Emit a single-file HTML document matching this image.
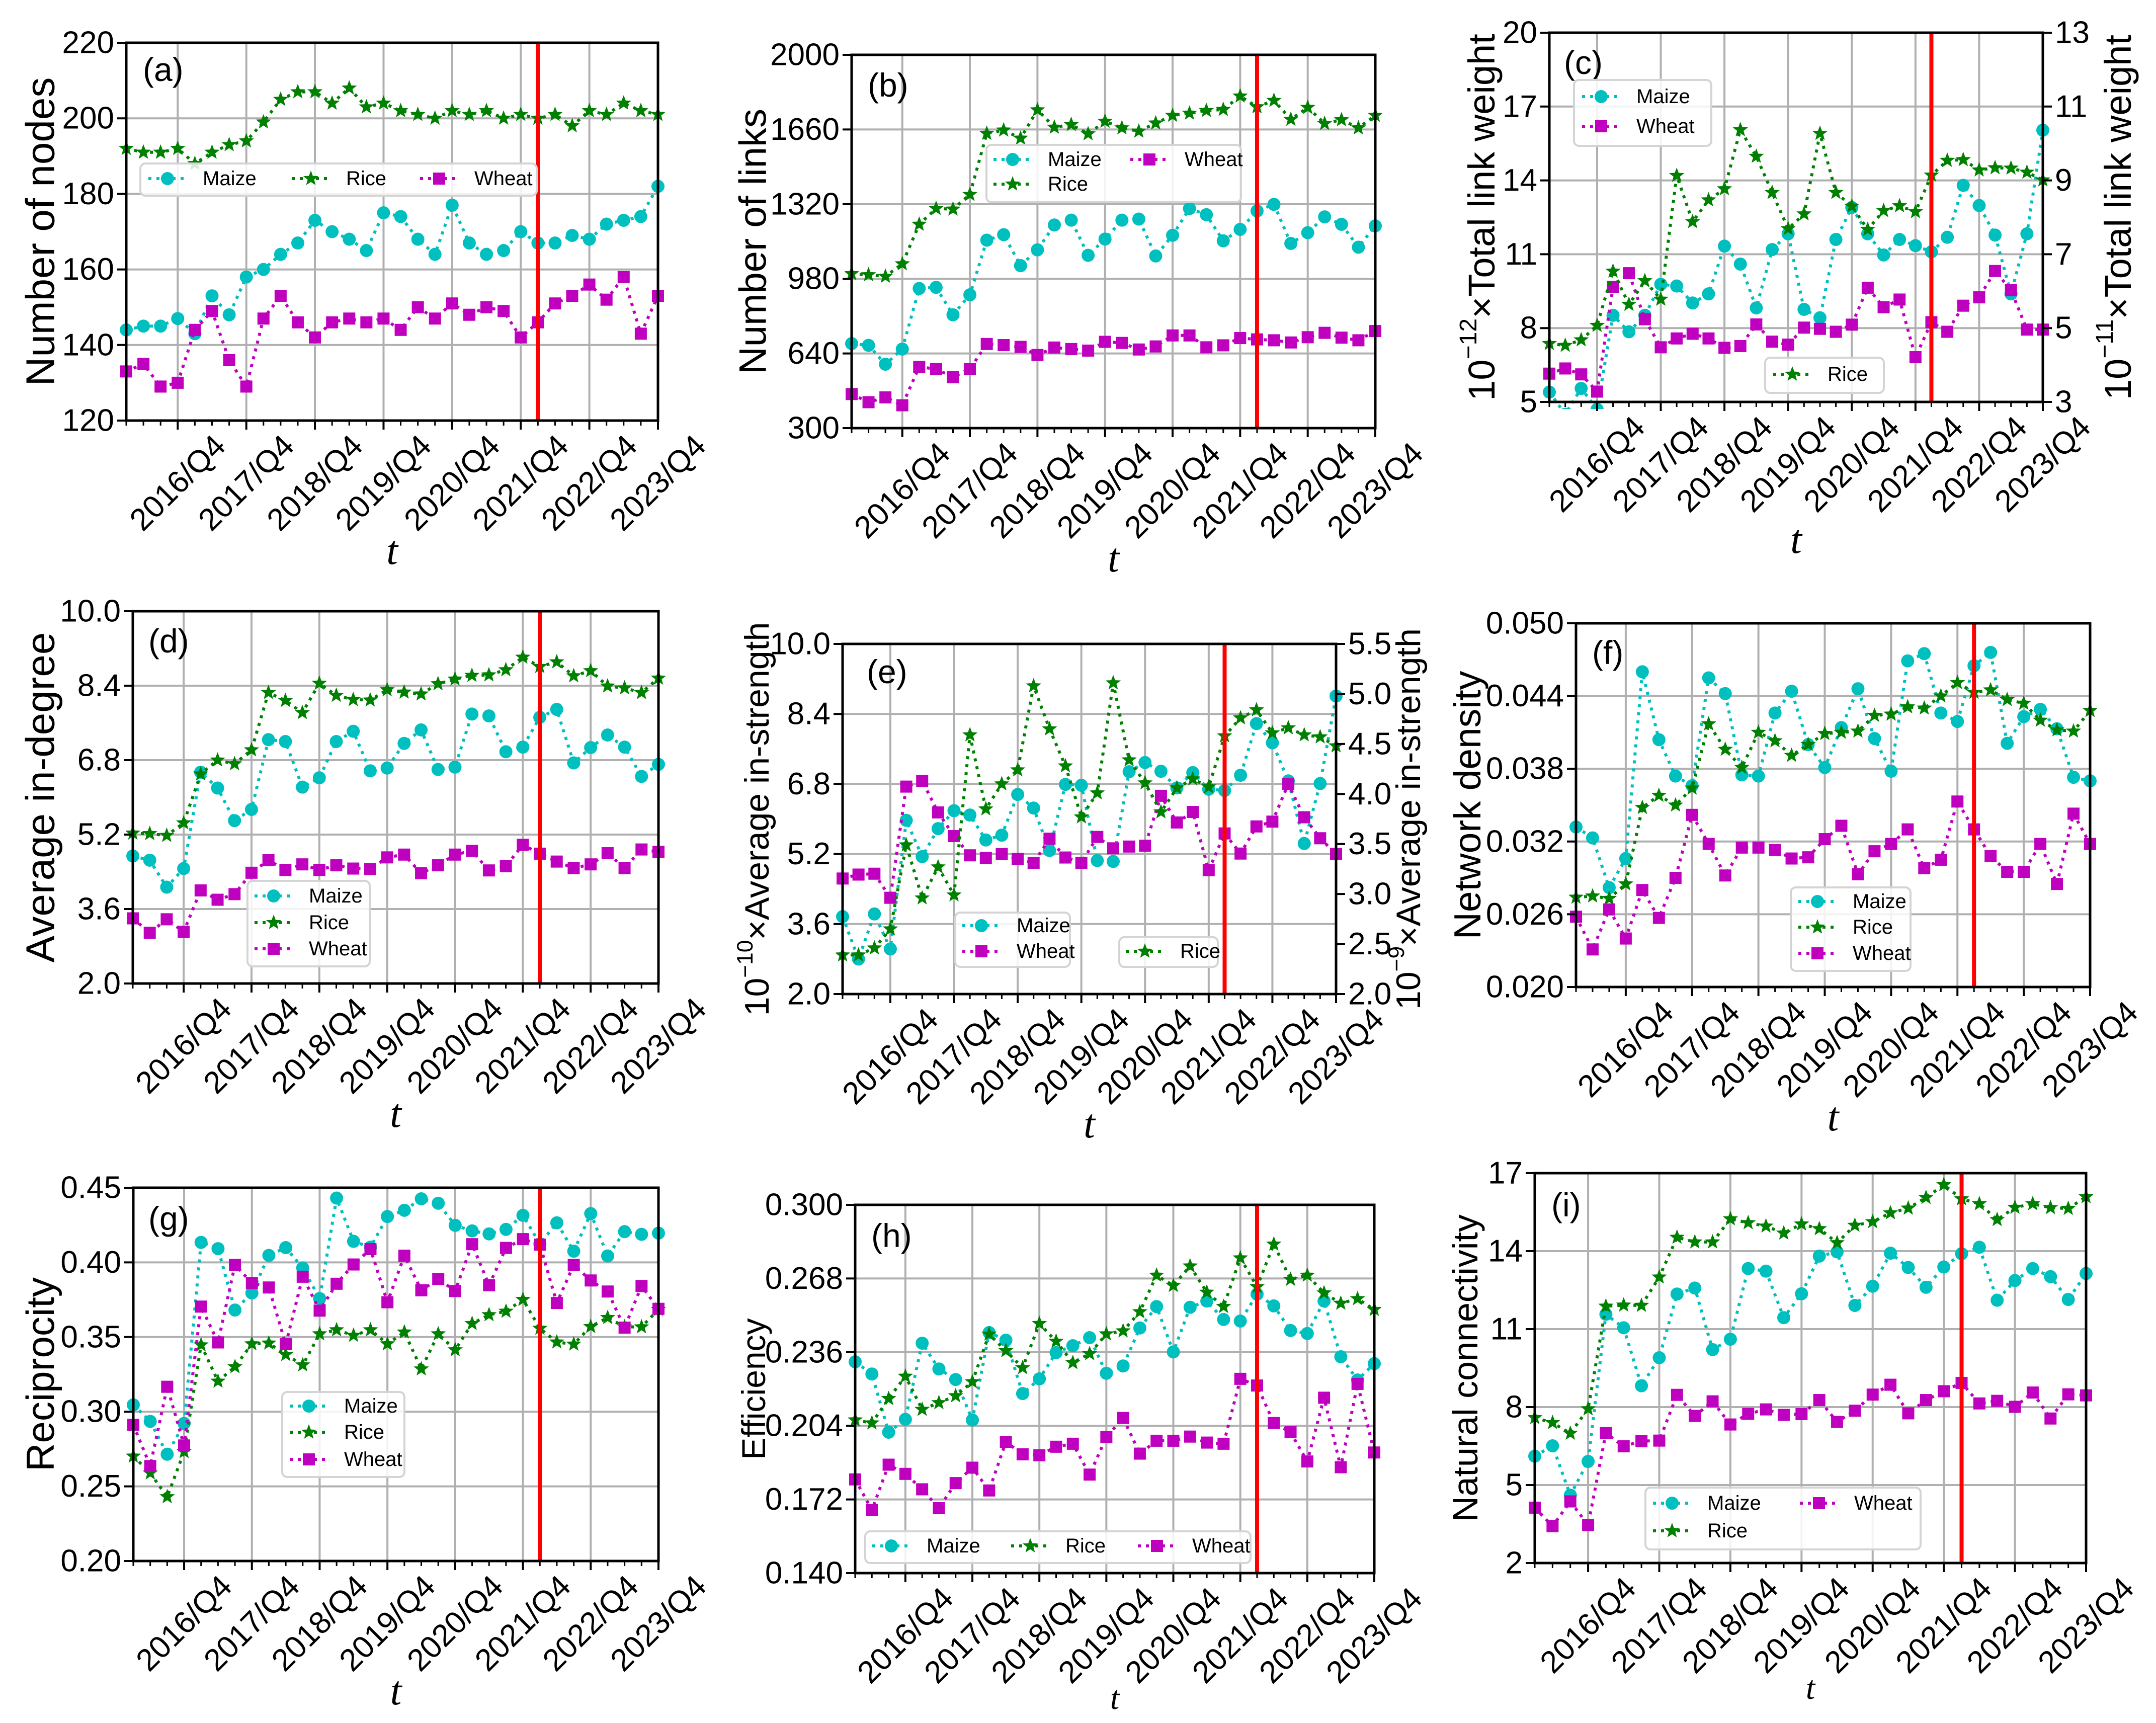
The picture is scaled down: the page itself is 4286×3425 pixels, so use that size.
<!DOCTYPE html>
<html><head><meta charset="utf-8">
<style>
html,body{margin:0;padding:0;background:#fff;}
svg{display:block;font-family:"Liberation Sans",Arial,sans-serif;}
</style></head>
<body>
<svg id="fig" xmlns="http://www.w3.org/2000/svg" width="4286" height="3425" viewBox="0 0 4286 3425">
<rect width="4286" height="3425" fill="#fff"/>
</svg>
<script>
const quarterLabels = ["2016/Q4","2017/Q4","2018/Q4","2019/Q4","2020/Q4","2021/Q4","2022/Q4","2023/Q4"];
const splitIndex = 24;

const aMaize = [144,145,145,147,143,153,148,158,160,164,167,173,170,168,165,175,174,168,164,177,167,164,165,170,167,167,169,168,172,173,174,182];
const aRice  = [192,191,191,192,188,191,193,194,199,205,207,207,204,208,203,204,202,201,200,202,201,202,200,201,200,201,198,202,201,204,202,201];
const aWheat = [133,135,129,130,144,149,136,129,147,153,146,142,146,147,146,147,144,150,147,151,148,150,149,142,146,151,153,156,152,158,143,153];
const aTicks = ["120","140","160","180","200","220"];

const bMaize = [685,677,591,660,936,941,816,907,1156,1181,1040,1112,1225,1247,1087,1161,1247,1252,1084,1178,1300,1272,1153,1205,1289,1319,1141,1190,1262,1228,1124,1221];
const bRice  = [1003,998,991,1048,1228,1300,1297,1364,1642,1657,1620,1749,1670,1682,1640,1697,1667,1652,1689,1724,1734,1746,1751,1812,1763,1792,1706,1760,1687,1704,1667,1724];
const bWheat = [455,418,440,404,579,569,532,569,683,678,670,633,667,660,653,693,688,658,672,722,722,668,677,710,704,700,690,714,734,712,700,742];
const bTicks = ["300","640","980","1320","1660","2000"];

const cMaize = [5.40,4.5,5.55,4.7,8.52,7.85,8.52,9.78,9.71,9.02,9.39,11.33,10.60,8.82,11.19,11.83,8.76,8.42,11.60,12.90,11.83,10.97,11.60,11.35,11.10,11.69,13.80,12.98,11.78,9.39,11.83,16.04];
const cWheat = [6.15,6.36,6.12,5.42,9.68,10.23,8.36,7.22,7.58,7.77,7.58,7.20,7.27,8.15,7.45,7.33,8.02,7.97,7.85,8.14,9.64,8.85,9.16,6.82,8.24,7.85,8.91,9.25,10.32,9.54,7.94,7.94];
const cRice  = [4.58,4.53,4.68,5.07,6.54,5.64,6.28,5.78,9.13,7.88,8.47,8.77,10.37,9.65,8.67,7.69,8.09,10.27,8.67,8.30,7.67,8.18,8.31,8.15,9.14,9.54,9.56,9.28,9.34,9.33,9.22,9.01];
const cTicksL = ["5","8","11","14","17","20"];
const cTicksR = ["3","5","7","9","11","13"];

const dMaize = [4.74,4.65,4.07,4.47,6.54,6.20,5.50,5.74,7.24,7.20,6.22,6.42,7.20,7.42,6.57,6.63,7.16,7.45,6.60,6.65,7.79,7.75,6.98,7.08,7.72,7.89,6.74,7.07,7.34,7.08,6.45,6.71];
const dRice  = [5.23,5.22,5.18,5.45,6.50,6.80,6.72,7.02,8.25,8.08,7.82,8.45,8.19,8.10,8.09,8.31,8.26,8.22,8.44,8.54,8.62,8.63,8.74,9.01,8.81,8.91,8.61,8.72,8.39,8.35,8.25,8.56];
const dWheat = [3.40,3.09,3.38,3.11,4.00,3.80,3.92,4.38,4.65,4.44,4.56,4.44,4.54,4.47,4.46,4.71,4.77,4.37,4.54,4.77,4.85,4.43,4.52,4.98,4.79,4.62,4.48,4.56,4.80,4.48,4.88,4.83];
const dTicks = ["2.0","3.6","5.2","6.8","8.4","10.0"];

const eMaize = [3.77,2.80,3.83,3.03,5.97,5.14,5.78,6.19,6.09,5.52,5.63,6.56,6.25,5.28,6.79,6.77,5.05,5.03,7.08,7.29,7.09,6.71,7.06,6.68,6.65,7.00,8.18,7.74,6.87,5.44,6.81,8.81];
const eWheat = [4.64,4.73,4.75,4.20,6.74,6.87,6.15,5.61,5.17,5.11,5.20,5.09,5.00,5.55,5.12,5.00,5.59,5.33,5.37,5.39,6.53,5.92,6.16,4.83,5.67,5.21,5.83,5.94,6.80,6.04,5.56,5.20];
const eRice  = [2.39,2.39,2.46,2.65,3.49,2.96,3.27,2.99,4.59,3.85,4.10,4.24,5.08,4.65,4.28,3.77,4.01,5.11,4.34,4.11,3.82,4.06,4.15,4.07,4.58,4.76,4.84,4.61,4.66,4.59,4.57,4.48];
const eTicksL = ["2.0","3.6","5.2","6.8","8.4","10.0"];
const eTicksR = ["2.0","2.5","3.0","3.5","4.0","4.5","5.0","5.5"];

const fMaize = [0.0332,0.0323,0.0282,0.0306,0.0460,0.0404,0.0374,0.0366,0.0455,0.0442,0.0375,0.0374,0.0426,0.0444,0.0400,0.0381,0.0414,0.0446,0.0405,0.0378,0.0469,0.0475,0.0426,0.0419,0.0465,0.0476,0.0401,0.0423,0.0429,0.0413,0.0373,0.0370];
const fRice  = [0.0274,0.0275,0.0273,0.0285,0.0348,0.0358,0.0350,0.0364,0.0417,0.0396,0.0381,0.0410,0.0403,0.0391,0.0400,0.0409,0.0410,0.0411,0.0424,0.0425,0.0431,0.0430,0.0440,0.0451,0.0443,0.0445,0.0437,0.0434,0.0420,0.0412,0.0411,0.0428];
const fWheat = [0.0258,0.0231,0.0264,0.0240,0.0280,0.0257,0.0290,0.0342,0.0318,0.0292,0.0315,0.0315,0.0313,0.0306,0.0307,0.0322,0.0333,0.0293,0.0312,0.0318,0.0330,0.0298,0.0305,0.0353,0.0330,0.0308,0.0295,0.0295,0.0318,0.0285,0.0343,0.0318];
const fTicks = ["0.020","0.026","0.032","0.038","0.044","0.050"];

const gMaize = [0.3046,0.2935,0.2715,0.2922,0.4134,0.4092,0.3681,0.3795,0.4047,0.4099,0.3963,0.3758,0.4431,0.4141,0.4102,0.4307,0.4349,0.4426,0.4396,0.4248,0.4211,0.4191,0.4221,0.4315,0.4124,0.4265,0.4075,0.4327,0.4043,0.4206,0.4188,0.4196];
const gRice  = [0.2702,0.2589,0.2430,0.2732,0.3447,0.3204,0.3301,0.3454,0.3459,0.3382,0.3313,0.3521,0.3548,0.3511,0.3548,0.3454,0.3533,0.3286,0.3521,0.3414,0.3590,0.3649,0.3672,0.3751,0.3558,0.3466,0.3452,0.3570,0.3630,0.3568,0.3568,0.3684];
const gWheat = [0.2912,0.2636,0.3167,0.2774,0.3704,0.3464,0.3983,0.3862,0.3832,0.3452,0.3904,0.3677,0.3857,0.3986,0.4089,0.3733,0.4045,0.3813,0.3889,0.3808,0.4122,0.3847,0.4097,0.4156,0.4119,0.3728,0.3983,0.3879,0.3805,0.3563,0.3842,0.3689];
const gTicks = ["0.20","0.25","0.30","0.35","0.40","0.45"];

const hMaize = [0.2318,0.2265,0.2012,0.2068,0.2399,0.2287,0.2241,0.2065,0.2445,0.2412,0.2180,0.2244,0.2358,0.2388,0.2423,0.2268,0.2300,0.2465,0.2558,0.2361,0.2555,0.2582,0.2502,0.2495,0.2612,0.2561,0.2454,0.2441,0.2582,0.2340,0.2239,0.2310];
const hRice  = [0.2065,0.2052,0.2158,0.2255,0.2111,0.2140,0.2170,0.2231,0.2438,0.2366,0.2292,0.2484,0.2407,0.2314,0.2353,0.2439,0.2452,0.2535,0.2694,0.2649,0.2734,0.2620,0.2558,0.2769,0.2644,0.2829,0.2676,0.2694,0.2617,0.2572,0.2592,0.2545];
const hWheat = [0.1807,0.1674,0.1871,0.1831,0.1764,0.1682,0.1791,0.1858,0.1759,0.1970,0.1916,0.1912,0.1949,0.1962,0.1828,0.1991,0.2074,0.1919,0.1975,0.1975,0.1993,0.1967,0.1962,0.2244,0.2215,0.2052,0.2012,0.1885,0.2162,0.1860,0.2222,0.1924];
const hTicks = ["0.140","0.172","0.204","0.236","0.268","0.300"];

const iMaize = [6.11,6.51,4.61,5.91,11.57,11.05,8.82,9.90,12.35,12.58,10.21,10.61,13.33,13.23,11.44,12.36,13.81,13.97,11.91,12.65,13.92,13.37,12.61,13.39,13.90,14.15,12.11,12.87,13.33,13.02,12.14,13.14];
const iRice  = [7.59,7.40,6.99,7.93,11.88,11.92,11.91,13.00,14.53,14.35,14.35,15.24,15.09,14.96,14.69,15.04,14.86,14.32,14.99,15.13,15.47,15.65,16.06,16.55,16.01,15.82,15.21,15.68,15.82,15.67,15.64,16.09];
const iWheat = [4.13,3.42,4.37,3.46,7.00,6.49,6.69,6.71,8.47,7.66,8.22,7.33,7.74,7.91,7.70,7.73,8.27,7.43,7.86,8.48,8.86,7.76,8.27,8.61,8.93,8.14,8.24,8.01,8.56,7.56,8.49,8.45];
const iTicks = ["2","5","8","11","14","17"];

const NS = "http://www.w3.org/2000/svg";
const svg = document.getElementById("fig");
const COL = {Maize:"#00bfbf", Rice:"#008000", Wheat:"#bf00bf"};
const MK = {Maize:"circle", Rice:"star", Wheat:"square"};

function mk(tag, attrs, parent){
  const e = document.createElementNS(NS, tag);
  for (const k in attrs) e.setAttribute(k, attrs[k]);
  (parent||svg).appendChild(e);
  return e;
}
function starPts(cx, cy, r){
  const p = [];
  for (let k=0;k<10;k++){
    const rr = k%2===0 ? r : r*0.42;
    const a = -Math.PI/2 + k*Math.PI/5;
    p.push((cx+rr*Math.cos(a)).toFixed(1)+","+(cy+rr*Math.sin(a)).toFixed(1));
  }
  return p.join(" ");
}
function marker(g, type, x, y, color){
  let m;
  if (type==="circle") m = mk("circle",{cx:x,cy:y,r:13,fill:color},g);
  else if (type==="square") m = mk("rect",{x:x-12,y:y-12,width:24,height:24,fill:color},g);
  else m = mk("polygon",{points:starPts(x,y,16),fill:color},g);
  return m;
}

function panel(P){
  const g = mk("g",{});
  
  
  const n = 32;
  const xs = i => P.L + i*(P.R-P.L)/(n-1);
  const yL = v => P.B - (v-P.y0)/(P.y1-P.y0)*(P.B-P.T);
  const yR = P.r0!==undefined ? (v => P.B - (v-P.r0)/(P.r1-P.r0)*(P.B-P.T)) : null;
  const grid = mk("g",{stroke:"#b0b0b0","stroke-width":4},g);
  
  
  for (let k=0;k<quarterLabels.length;k++){
    const x = xs(3+4*k);
    mk("line",{x1:x,x2:x,y1:P.T,y2:P.B},grid);
  }
  P.ticks.forEach(t=>{
    const y = yL(parseFloat(t));
    mk("line",{x1:P.L,x2:P.R,y1:y,y2:y},grid);
  });
  const defs = mk("defs",{},g);
  const cp = mk("clipPath",{id:"clip"+P.id},defs);
  mk("rect",{x:P.L-14,y:P.T-14,width:P.R-P.L+28,height:P.B-P.T+28},cp);
  P.series.forEach(s=>{
    const sy = s.right ? yR : yL;
    const sg = mk("g",{"clip-path":"url(#clip"+P.id+")"},g);
    
    
    const pts = s.data.map((v,i)=>xs(i).toFixed(1)+","+sy(v).toFixed(1)).join(" ");
    const pl = mk("polyline",{points:pts,fill:"none",stroke:COL[s.name],"stroke-width":6,"stroke-dasharray":"6 10"},sg);
    
    
    s.data.forEach((v,i)=>{
      const m = marker(sg, MK[s.name], xs(i), sy(v), COL[s.name]);
      
      
    });
  });
  const rx = xs(splitIndex);
  const red = mk("line",{x1:rx,x2:rx,y1:P.T,y2:P.B,stroke:"#ff0000","stroke-width":8},g);
  
  
  const fr = mk("rect",{x:P.L,y:P.T,width:P.R-P.L,height:P.B-P.T,fill:"none",stroke:"#000","stroke-width":5},g);
  
  
  for (let i=0;i<n;i++){
    const x = xs(i);
    const major = (i-3)%4===0;
    mk("line",{x1:x,x2:x,y1:P.B,y2:P.B+(major?18:10),stroke:"#000","stroke-width":major?4:3},g);
  }
  const fs = P.fs||62;
  quarterLabels.forEach((lab,k)=>{
    const x = xs(3+4*k);
    const cy = P.B + 124;
    const t = mk("text",{x:x,y:cy,"font-size":fs,"text-anchor":"middle","dominant-baseline":"central",transform:"rotate(-45 "+x+" "+cy+")"},g);
    t.textContent = lab;
    
    
  });
  P.ticks.forEach(tv=>{
    const y = yL(parseFloat(tv));
    mk("line",{x1:P.L-18,x2:P.L,y1:y,y2:y,stroke:"#000","stroke-width":4},g);
    const t = mk("text",{x:P.L-24,y:y,"font-size":fs,"text-anchor":"end","dominant-baseline":"central"},g);
    t.textContent = tv;
    
    
  });
  if (P.rticks){
    P.rticks.forEach(tv=>{
      const y = yR(parseFloat(tv));
      mk("line",{x1:P.R,x2:P.R+18,y1:y,y2:y,stroke:"#000","stroke-width":4},g);
      const t = mk("text",{x:P.R+24,y:y,"font-size":fs,"text-anchor":"start","dominant-baseline":"central"},g);
      t.textContent = tv;
      
      
    });
  }
  const xl = mk("text",{x:(P.L+P.R)/2,y:P.B+(P.xlY||285),"font-size":P.xlfs||82,"font-style":"italic","font-family":"'Liberation Serif',serif","text-anchor":"middle"},g);
  xl.textContent = "t";
  
  
  function ylab(x, lab, pre, name){
    const cy = (P.T+P.B)/2;
    const f = P.ylfs||80;
    const t = mk("text",{x:x,y:cy,"font-size":f,"text-anchor":"middle","dominant-baseline":"central",transform:"rotate(-90 "+x+" "+cy+")"},g);
    if (pre){
      const a = mk("tspan",{},t); a.textContent = "10";
      const b = mk("tspan",{dy:-f*0.35,"font-size":f*0.65},t); b.textContent = pre;
      const c = mk("tspan",{dy:f*0.35},t); c.textContent = "×"+lab;
    } else t.textContent = lab;
    
    
  }
  ylab(P.ylX, P.ylabel, P.ylPre, 'y-axis-title');
  if (P.ylabel2) ylab(P.yl2X, P.ylabel2, P.yl2Pre, 'y2-axis-title');
  const pl = mk("text",{x:P.lx,y:P.ly,"font-size":66},g);
  pl.textContent = "("+P.id+")";
  
  
  P.legends.forEach(Lg=>{
    const lg = mk("g",{},g);
    
    
    mk("rect",{x:Lg.box[0],y:Lg.box[1],width:Lg.box[2]-Lg.box[0],height:Lg.box[3]-Lg.box[1],rx:10,fill:"#fff","fill-opacity":0.85,stroke:"#d4d4d4","stroke-width":4},lg);
    Lg.items.forEach(it=>{
      const eg = mk("g",{},lg);
      
      
      const hx = it[1], hy = it[2];
      mk("line",{x1:hx,x2:hx+76,y1:hy,y2:hy,stroke:COL[it[0]],"stroke-width":6,"stroke-dasharray":"6 10"},eg);
      marker(eg, MK[it[0]], hx+38, hy, COL[it[0]]);
      const t = mk("text",{x:hx+108,y:hy,"font-size":40,"dominant-baseline":"central"},eg);
      t.textContent = it[0];
    });
  });
}

panel({id:"a",L:251,R:1308,T:85,B:836,y0:120,y1:220,ticks:aTicks,ylabel:"Number of nodes",ylX:80,lx:284,ly:161,
  series:[{name:"Maize",data:aMaize},{name:"Rice",data:aRice},{name:"Wheat",data:aWheat}],
  legends:[{box:[279,325,1067,389],items:[["Maize",295,355],["Rice",580,355],["Wheat",835,355]]}]});
panel({id:"b",L:1693,R:2734,T:109,B:851,y0:300,y1:2000,ticks:bTicks,ylabel:"Number of links",ylX:1497,ylfs:76,lx:1725,ly:192,
  series:[{name:"Maize",data:bMaize},{name:"Rice",data:bRice},{name:"Wheat",data:bWheat}],
  legends:[{box:[1961,288,2467,402],items:[["Maize",1975,317],["Rice",1975,366],["Wheat",2247,317]]}]});
panel({id:"c",L:3080,R:4061,T:65,B:799,y0:5,y1:20,ticks:cTicksL,r0:3,r1:13,rticks:cTicksR,xlY:300,
  ylabel:"Total link weight",ylPre:"−12",ylX:2945,ylabel2:"Total link weight",yl2Pre:"−11",yl2X:4210,ylfs:74,lx:3109,ly:147,
  series:[{name:"Maize",data:cMaize},{name:"Wheat",data:cWheat},{name:"Rice",data:cRice,right:true}],
  legends:[{box:[3129,159,3402,290],items:[["Maize",3145,192],["Wheat",3145,251]]},{box:[3509,711,3745,781],items:[["Rice",3525,744]]}]});
panel({id:"d",L:264,R:1309,T:1215,B:1955,y0:2,y1:10,ticks:dTicks,ylabel:"Average in-degree",ylX:80,lx:295,ly:1297,
  series:[{name:"Maize",data:dMaize},{name:"Rice",data:dRice},{name:"Wheat",data:dWheat}],
  legends:[{box:[492,1751,735,1921],items:[["Maize",506,1781],["Rice",506,1834],["Wheat",506,1886]]}]});
panel({id:"e",L:1675,R:2656,T:1280,B:1976,y0:2,y1:10,ticks:eTicksL,r0:2,r1:5.5,rticks:eTicksR,
  ylabel:"Average in-strength",ylPre:"−10",ylX:1505,ylabel2:"Average in-strength",yl2Pre:"−9",yl2X:2800,ylfs:68,lx:1723,ly:1358,
  series:[{name:"Maize",data:eMaize},{name:"Wheat",data:eWheat},{name:"Rice",data:eRice,right:true}],
  legends:[{box:[1899,1814,2127,1922],items:[["Maize",1913,1840],["Wheat",1913,1891]]},{box:[2225,1863,2421,1922],items:[["Rice",2238,1891]]}]});
panel({id:"f",L:3133,R:4155,T:1239,B:1962,y0:0.020,y1:0.050,ticks:fTicks,ylabel:"Network density",ylX:2917,ylfs:75,lx:3165,ly:1320,
  series:[{name:"Maize",data:fMaize},{name:"Rice",data:fRice},{name:"Wheat",data:fWheat}],
  legends:[{box:[3560,1764,3798,1930],items:[["Maize",3575,1792],["Rice",3575,1843],["Wheat",3575,1895]]}]});
panel({id:"g",L:265,R:1309,T:2361,B:3103,y0:0.20,y1:0.45,ticks:gTicks,ylabel:"Reciprocity",ylX:80,ylfs:78,lx:295,ly:2445,
  series:[{name:"Maize",data:gMaize},{name:"Rice",data:gRice},{name:"Wheat",data:gWheat}],
  legends:[{box:[561,2767,804,2936],items:[["Maize",576,2795],["Rice",576,2847],["Wheat",576,2901]]}]});
panel({id:"h",L:1700,R:2732,T:2395,B:3127,y0:0.140,y1:0.300,ticks:hTicks,ylabel:"Efficiency",ylX:1498,ylfs:66,xlfs:66,xlY:270,lx:1732,ly:2479,
  series:[{name:"Maize",data:hMaize},{name:"Rice",data:hRice},{name:"Wheat",data:hWheat}],
  legends:[{box:[1720,3044,2486,3107],items:[["Maize",1734,3073],["Rice",2010,3073],["Wheat",2262,3073]]}]});
panel({id:"i",L:3051,R:4147,T:2332,B:3107,y0:2,y1:17,ticks:iTicks,ylabel:"Natural connectivity",ylX:2913,ylfs:70,xlfs:66,xlY:270,lx:3084,ly:2418,
  series:[{name:"Maize",data:iMaize},{name:"Rice",data:iRice},{name:"Wheat",data:iWheat}],
  legends:[{box:[3271,2957,3818,3080],items:[["Maize",3286,2988],["Rice",3286,3043],["Wheat",3578,2988]]}]});
</script>
</body></html>
